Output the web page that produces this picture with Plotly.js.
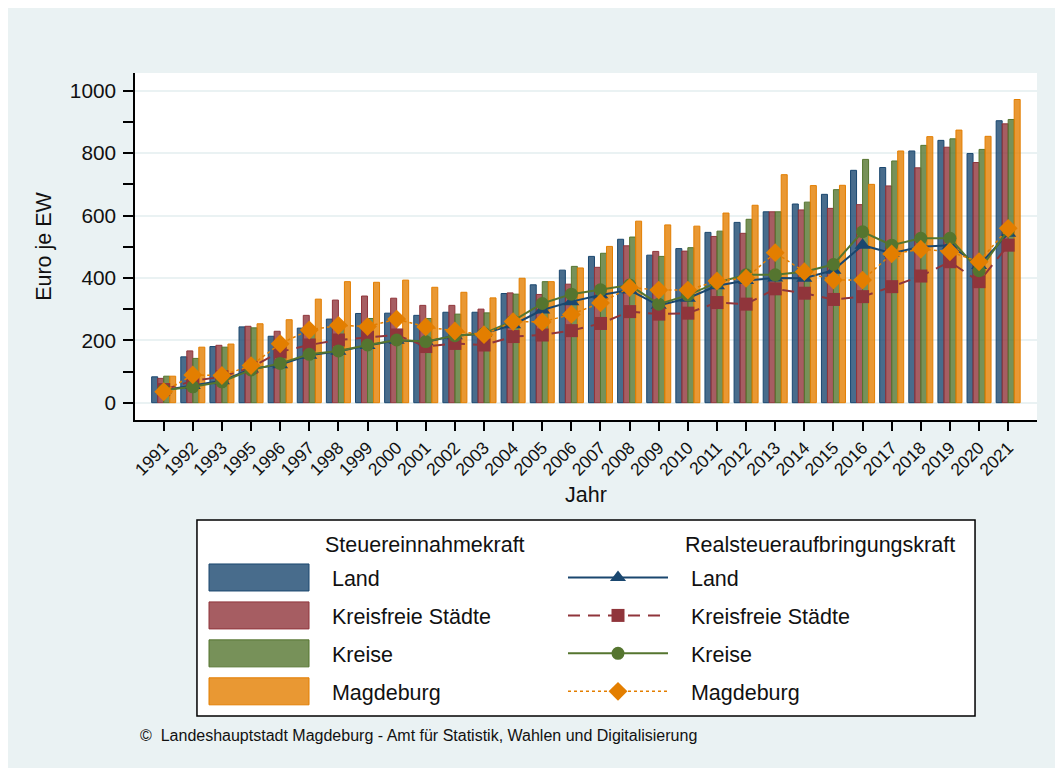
<!DOCTYPE html>
<html>
<head>
<meta charset="utf-8">
<script src="https://cdn.plot.ly/plotly-3.0.1.min.js"></script>
<style>
html,body{margin:0;padding:0;background:#ffffff;}
#chart{position:absolute;left:8px;top:8px;width:1047px;height:760px;}
</style>
</head>
<body>
<div id="chart"></div>
<script>
// ---- data ----
var years = ["1991","1992","1993","1995","1996","1997","1998","1999","2000","2001","2002","2003","2004","2005","2006","2007","2008","2009","2010","2011","2012","2013","2014","2015","2016","2017","2018","2019","2020","2021"];

// Steuereinnahmekraft (bars)
var sekLand      = [83,147,180,243,213,239,268,286,287,280,290,290,350,378,425,469,524,473,494,546,578,612,637,668,745,754,807,841,799,904];
var sekKreisfrei = [78,166,184,245,229,280,329,342,335,312,312,300,352,347,380,434,503,485,486,533,543,612,618,623,635,695,753,819,770,894];
var sekKreise    = [85,142,178,240,195,225,250,270,235,270,284,288,348,388,437,479,531,469,497,550,588,612,643,683,780,775,825,846,812,908];
var sekMagdeburg = [85,178,188,253,266,332,388,386,393,370,354,336,399,388,432,501,582,570,566,608,633,731,696,697,700,807,853,874,854,972];

// Realsteueraufbringungskraft (lines)
var rsLand      = [40,55,70,108,122,152,165,183,200,195,215,222,250,297,324,345,361,312,335,375,392,400,399,425,505,479,500,505,440,543];
var rsKreisfrei = [42,70,83,113,163,185,201,210,217,180,190,185,212,217,231,254,292,284,287,321,316,365,351,331,340,372,406,452,388,505];
var rsKreise    = [40,51,67,105,126,155,166,185,201,196,215,222,262,318,348,362,377,316,345,385,410,410,420,443,548,505,527,527,423,553];
var rsMagdeburg = [35,89,87,119,189,233,248,244,268,243,230,218,260,259,283,320,369,361,361,390,399,481,420,393,393,477,492,484,452,559];

var seriesNames = ["Land","Kreisfreie Städte","Kreise","Magdeburg"];
var yTickVals = [0,200,400,600,800,1000];

// ---- styles ----
var baseCols = ["#1A476F","#90353B","#55752F","#E37E00"];
var fillCols = ["rgba(26,71,111,0.8)","rgba(144,53,59,0.8)","rgba(85,117,47,0.8)","rgba(227,126,0,0.8)"];
var NB = "\u00a0\u00a0\u00a0";

var barData = [sekLand, sekKreisfrei, sekKreise, sekMagdeburg];
var lineData = [rsLand, rsKreisfrei, rsKreise, rsMagdeburg];
var symbols = ["triangle-up","square","circle","diamond"];
var msizes = [14,13,13,14.5];
var dashes = ["solid","12px,8px","solid","dot"];
var lwidths = [2,2,2,1.5];

var traces = [];
for (var i=0;i<4;i++){
  traces.push({
    type:"bar", x:years, y:barData[i], name:NB+seriesNames[i],
    legend:"legend", legendgroup:"b"+i,
    marker:{color:fillCols[i], line:{color:baseCols[i], width:1}},
    hoverinfo:"x+y"
  });
}
for (var j=0;j<4;j++){
  traces.push({
    type:"scatter", mode:"lines+markers", x:years, y:lineData[j], name:NB+seriesNames[j],
    legend:"legend2", legendgroup:"l"+j,
    line:{color:baseCols[j], width:lwidths[j], dash:dashes[j]},
    marker:{symbol:symbols[j], size:msizes[j], color:baseCols[j], line:{width:0}},
    hoverinfo:"x+y"
  });
}

var FONT = "Liberation Sans, Arial, Helvetica, sans-serif";
var LF = 21.5;

var layout = {
  width:1047, height:760,
  margin:{l:127, r:18, t:65, b:348},
  paper_bgcolor:"#EAF2F3",
  plot_bgcolor:"#FFFFFF",
  font:{family:FONT, color:"#111111", size:18},
  barmode:"group", bargap:0.175, bargroupgap:0,
  showlegend:true,
  xaxis:{
    type:"category", categoryorder:"array", categoryarray:years,
    range:[-0.985, 29.99],
    showline:true, linecolor:"#000", linewidth:1.5,
    ticks:"outside", ticklen:9, tickwidth:1.5, tickcolor:"#000",
    tickangle:-45, tickfont:{size:17.5, color:"#111"},
    showgrid:false, zeroline:false,
    title:{text:"Jahr", font:{size:21.5, color:"#111"}, standoff:8}
  },
  yaxis:{
    range:[-55.5, 1057],
    tickmode:"array", tickvals:yTickVals, ticktext:yTickVals.map(String),
    showline:true, linecolor:"#000", linewidth:1.5,
    ticks:"outside", ticklen:10, tickwidth:1.5, tickcolor:"#000",
    ticklabelstandoff:3,
    tickfont:{size:20.8, color:"#111"},
    minor:{tick0:0, dtick:100, ticks:"outside", ticklen:10, tickwidth:1.5, tickcolor:"#000", showgrid:false},
    showgrid:true, gridcolor:"#EAF2F3", gridwidth:1.5, zeroline:false,
    title:{text:"Euro je EW", font:{size:21.5, color:"#111"}, standoff:12}
  },
  legend:{
    x:0.0765, y:-0.3948, xanchor:"left", yanchor:"top",
    bgcolor:"rgba(0,0,0,0)", borderwidth:0,
    font:{size:LF, color:"#111"}, itemwidth:100,
    traceorder:"grouped", tracegroupgap:7, orientation:"v"
  },
  legend2:{
    x:0.4745, y:-0.3948, xanchor:"left", yanchor:"top",
    bgcolor:"rgba(0,0,0,0)", borderwidth:0,
    font:{size:LF, color:"#111"}, itemwidth:100,
    traceorder:"grouped", tracegroupgap:7, orientation:"v"
  },
  shapes:[{
    type:"rect", xref:"paper", yref:"paper",
    x0:0.0687, x1:0.9313, y0:-0.2882, y1:-0.853,
    line:{color:"#000", width:1.5}, fillcolor:"#FFFFFF", layer:"below"
  }],
  annotations:[
    {xref:"paper", yref:"paper", x:0.2085, y:-0.3602, xanchor:"left", yanchor:"middle",
     text:"Steuereinnahmekraft", showarrow:false, font:{size:LF, color:"#111"}},
    {xref:"paper", yref:"paper", x:0.6076, y:-0.3602, xanchor:"left", yanchor:"middle",
     text:"Realsteueraufbringungskraft", showarrow:false, font:{size:LF, color:"#111"}},
    {xref:"paper", yref:"paper", x:0.0033, y:-0.9078, xanchor:"left", yanchor:"middle",
     text:"©  Landeshauptstadt Magdeburg - Amt für Statistik, Wahlen und Digitalisierung", showarrow:false, font:{size:16, color:"#111"}}
  ]
};

function fixSwatches(){
  var gd = document.getElementById("chart");
  var paths = gd.querySelectorAll("g.legendpoints path");
  paths.forEach(function(p){
    var d = p.getAttribute("d") || "";
    if (d.replace(/\s/g,"") === "M6,6H-6V-6H6Z" || p.classList.contains("legendbar")) {
      p.setAttribute("d","M50,13.5H-50V-13.5H50Z");
    }
  });
}

Plotly.newPlot("chart", traces, layout, {displayModeBar:false}).then(function(gd){
  fixSwatches();
  gd.on("plotly_afterplot", fixSwatches);
  setTimeout(fixSwatches, 50);
  setTimeout(fixSwatches, 300);
});
</script>
</body>
</html>
